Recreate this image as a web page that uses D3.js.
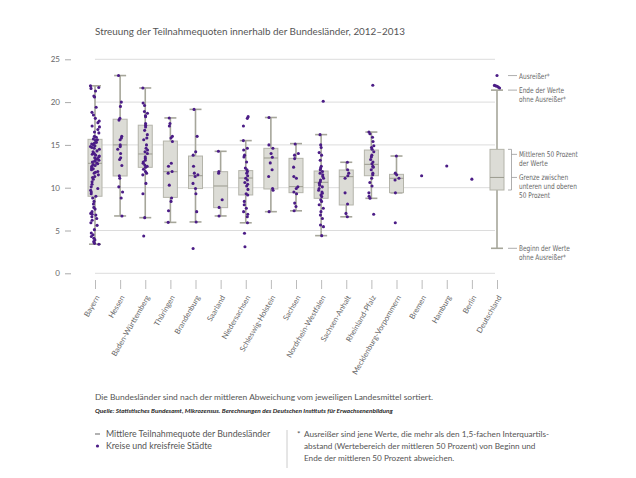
<!DOCTYPE html>
<html><head><meta charset="utf-8">
<script src="https://cdn.jsdelivr.net/npm/d3@7"></script>
<style>
body{margin:0;background:#fff;}
svg{display:block;font-family:Lato,"Open Sans",sans-serif;}
</style></head>
<body>
<svg id="c" width="636" height="478"></svg>
<script>
const categories = ["Bayern","Hessen","Baden-Württemberg","Thüringen","Brandenburg","Saarland","Niedersachsen","Schleswig-Holstein","Sachsen","Nordrhein-Westfalen","Sachsen-Anhalt","Rheinland-Pfalz","Mecklenburg-Vorpommern","Bremen","Hamburg","Berlin","Deutschland"];
const yTicks = [0,5,10,15,20,25];
// box statistics (null = no box)
const whiskerLow  = [3.4, 6.7, 6.5, 5.95, 6.0, 6.7, 5.9, 7.2, 7.3, 4.4, 6.6, 8.76, 9.4, null, null, null, 2.92];
const q1          = [9.0, 11.37, 12.38, 8.87, 9.9, 7.67, 9.15, 9.85, 9.42, 8.76, 7.98, 11.4, 9.42, null, null, null, 9.73];
const median      = [12.85, 15.0, 13.94, 11.87, 11.4, 10.2, 11.13, 13.47, 10.12, 10.63, 11.29, 12.73, 11.1, null, null, null, 11.2];
const q3          = [15.65, 18.0, 17.3, 15.45, 13.7, 11.87, 12.0, 14.6, 13.43, 11.95, 12.07, 14.4, 11.56, null, null, null, 14.48];
const whiskerHigh = [21.9, 23.1, 21.65, 18.15, 19.15, 14.25, 15.5, 18.2, 15.15, 16.2, 12.97, 16.5, 13.7, null, null, null, 21.4];
// Kreise und kreisfreie Städte (Teilnahmequoten)
const bayern = [21.9,21.7,21.6,21.3,20.7,20.6,19.4,18.8,18.5,18.1,17.8,17.6,17.2,17.1,16.8,16.5,16.4,16.0,15.9,15.7,15.6,15.5,15.3,15.2,15.1,15.0,14.9,14.8,14.7,14.6,14.5,14.3,14.2,14.0,13.9,13.8,13.7,13.6,13.5,13.4,13.3,13.2,13.1,13.0,12.9,12.8,12.7,12.6,12.5,12.3,12.2,12.1,11.9,11.8,11.7,11.5,11.3,11.2,11.0,10.7,10.4,10.1,9.9,9.7,9.5,9.3,9.0,8.8,8.4,8.1,7.7,7.5,7.2,7.0,6.9,6.8,6.6,6.4,6.2,5.9,5.6,5.1,4.7,4.5,4.3,4.1,3.9,3.7,3.5,3.4];
const hessen = [23.1,20.0,19.5,18.1,17.9,16.0,15.8,15.6,15.0,14.8,14.5,14.0,13.5,13.3,12.6,11.4,11.1,10.1,9.5,8.8,6.7];
const badenWuerttemberg = [21.65,19.9,19.6,18.9,18.7,18.4,18.3,17.5,17.3,17.1,16.7,16.2,15.8,15.6,15.0,14.6,14.4,14.2,14.0,13.6,13.4,13.2,13.0,12.85,12.65,12.5,12.4,12.15,11.9,11.7,11.5,10.5,9.3,6.5,4.36];
const thueringen = [18.15,17.5,17.2,16.0,15.8,15.4,12.85,12.5,11.9,11.7,10.3,8.8,8.4,7.3,5.95];
const brandenburg = [19.15,16.0,14.2,13.8,12.5,11.7,11.5,11.3,10.5,9.9,9.3,7.2,6.0,2.9];
const saarland = [14.25,11.9,11.7,8.6,7.7,6.7];
const niedersachsen = [18.3,18.1,17.2,15.5,14.6,14.4,13.8,13.6,13.0,12.3,12.1,11.9,11.7,11.4,11.1,10.9,10.6,10.4,10.2,9.8,9.3,9.15,8.4,8.0,7.6,7.2,6.9,6.6,5.9,4.67,3.1];
const schleswigHolstein = [18.2,15.0,14.6,14.0,13.55,12.9,12.1,11.3,9.9,9.7,7.2];
const sachsen = [15.1,14.0,13.8,13.4,12.4,11.3,11.1,10.1,9.9,9.5,9.3,8.2,7.8,7.3];
const nordrheinWestfalen = [20.1,16.2,15.0,14.7,14.1,13.8,13.2,12.5,12.3,12.1,11.9,11.7,11.5,11.3,11.1,10.9,10.7,10.5,10.3,10.1,9.9,9.7,9.5,9.35,9.15,8.96,8.6,8.4,8.0,7.6,7.2,6.8,6.4,5.65,5.45,4.4];
const sachsenAnhalt = [12.97,12.1,11.7,11.4,11.1,9.4,8.1,7.0,6.6];
const rheinlandPfalz = [21.96,16.5,16.3,15.9,15.4,14.9,14.7,14.5,14.2,13.8,13.6,13.3,13.0,12.8,12.5,12.4,12.1,11.7,11.5,11.1,10.6,10.2,9.4,9.0,8.76,6.9];
const mecklenburgVorpommern = [13.7,11.7,11.5,11.1,10.9,9.4,5.9];
const bremen = [11.4];
const hamburg = [12.53];
const berlin = [11.0];
const deutschlandAusreisser = [23.1,21.95,21.9,21.85,21.75,21.65];
const points = [bayern,hessen,badenWuerttemberg,thueringen,brandenburg,saarland,niedersachsen,schleswigHolstein,sachsen,nordrheinWestfalen,sachsenAnhalt,rheinlandPfalz,mecklenburgVorpommern,bremen,hamburg,berlin,deutschlandAusreisser];

const svg = d3.select("#c");
const purple = "#4b1c86";
const x = d3.scalePoint().domain(categories).range([95, 497]);
const y = d3.scaleLinear().domain([0,25]).range([273.3, 59.3]);

// title
svg.append("text").attr("x",95).attr("y",35).attr("font-size",9.9).attr("fill","#555")
  .text("Streuung der Teilnahmequoten innerhalb der Bundesländer, 2012–2013");

// gridlines
svg.append("g").selectAll("line").data(yTicks).join("line")
  .attr("x1",95).attr("x2",495).attr("y1",d=>y(d)).attr("y2",d=>y(d))
  .attr("stroke","#dcdcdc").attr("stroke-width",1);

// y axis
const ya = svg.append("g").attr("transform","translate(71,0)")
  .call(d3.axisLeft(y).tickValues(yTicks).tickSize(6).tickPadding(5));
ya.select(".domain").remove();
ya.selectAll("line").attr("stroke","#aaa");
ya.selectAll("text").attr("fill","#666").attr("font-size",8).attr("font-family","Lato,sans-serif");

// x axis
const xa = svg.append("g").attr("transform","translate(0,280)")
  .call(d3.axisBottom(x).tickSize(9));
xa.select(".domain").remove();
xa.selectAll("line").attr("stroke","#bbb");
xa.selectAll("text").attr("fill","#666").attr("font-size",7.6).attr("font-family","Lato,sans-serif")
  .attr("x",0).attr("y",0).attr("dy","0.35em").attr("text-anchor","end")
  .attr("transform","translate(2,16) rotate(-60)");

// boxes
const bw = 14;
const boxes = svg.append("g");
categories.forEach((c,i)=>{
  if (q1[i] === null) return;
  const cx = x(c);
  const g = boxes.append("g");
  g.append("line").attr("x1",cx).attr("x2",cx).attr("y1",y(whiskerLow[i])).attr("y2",y(whiskerHigh[i]))
    .attr("stroke","#a6a69a").attr("stroke-width",1.6);
  [whiskerLow[i], whiskerHigh[i]].forEach(v=>{
    g.append("line").attr("x1",cx-6).attr("x2",cx+6).attr("y1",y(v)).attr("y2",y(v))
      .attr("stroke","#a6a69a").attr("stroke-width",1.6);
  });
  g.append("rect").attr("x",cx-bw/2).attr("width",bw).attr("y",y(q3[i])).attr("height",y(q1[i])-y(q3[i]))
    .attr("fill","#dcdcd6").attr("stroke","#b4b4aa").attr("stroke-width",1);
  g.append("line").attr("x1",cx-bw/2).attr("x2",cx+bw/2).attr("y1",y(median[i])).attr("y2",y(median[i]))
    .attr("stroke","#9a9a8e").attr("stroke-width",1);
});

// dots (deterministic horizontal jitter)
function hash(a){ const s = Math.sin(a)*43758.5453; return s - Math.floor(s) - 0.5; }
const dots = svg.append("g");
categories.forEach((c,i)=>{
  const cx = x(c);
  const spread = i===0 ? 9 : (points[i].length>1 ? 5 : 0);
  points[i].forEach((v,j)=>{
    let dx = hash(j*12.9898 + i*78.233)*spread;
    if (c==="Deutschland") dx = j===0 ? 0 : (j-3)*1.3;
    dots.append("circle").attr("cx",cx+dx).attr("cy",y(v)).attr("r",1.55).attr("fill",purple);
  });
});

// annotations for Deutschland box
const ann = svg.append("g").attr("font-family","'Liberation Sans Narrow','DejaVu Sans Condensed',Lato,sans-serif").attr("font-size",7.8).attr("fill","#666");
const ax = 519;
function dash(x1,x2,yy){ ann.append("line").attr("x1",x1).attr("x2",x2).attr("y1",yy).attr("y2",yy).attr("stroke","#999").attr("stroke-width",0.8); }
function lines(arr,yy){ arr.forEach((t,k)=>ann.append("text").attr("transform",`translate(${ax},${yy+3+k*8.8}) scale(0.83,1)`).text(t)); }
const dIdx = categories.length-1;
dash(508,517,y(23.1)); lines(["Ausreißer*"], y(23.1));
dash(508,517,y(whiskerHigh[dIdx])); lines(["Ende der Werte","ohne Ausreißer*"], y(whiskerHigh[dIdx]));
const bx = 511.5;
ann.append("path").attr("d",`M508,${y(q3[dIdx])}H${bx}V${y(q1[dIdx])}H508`).attr("fill","none").attr("stroke","#999").attr("stroke-width",0.8);
dash(bx,517,y(q3[dIdx])+5); lines(["Mittleren 50 Prozent","der Werte"], y(q3[dIdx])+5);
dash(bx,517,y(median[dIdx])); lines(["Grenze zwischen","unteren und oberen","50 Prozent"], y(median[dIdx]));
dash(508,517,y(whiskerLow[dIdx])); lines(["Beginn der Werte","ohne Ausreißer*"], y(whiskerLow[dIdx]));

// notes
svg.append("text").attr("x",95).attr("y",400).attr("font-size",8.45).attr("fill","#555")
  .text("Die Bundesländer sind nach der mittleren Abweichung vom jeweiligen Landesmittel sortiert.");
svg.append("text").attr("x",95).attr("y",413).attr("font-size",6.45).attr("font-style","italic").attr("font-weight",700).attr("fill","#222")
  .text("Quelle: Statistisches Bundesamt, Mikrozensus. Berechnungen des Deutschen Instituts für Erwachsenenbildung");

// legend
svg.append("line").attr("x1",95).attr("x2",100).attr("y1",434).attr("y2",434).attr("stroke","#999").attr("stroke-width",1.5);
svg.append("text").attr("x",106).attr("y",437).attr("font-size",8.8).attr("fill","#555").text("Mittlere Teilnahmequote der Bundesländer");
svg.append("circle").attr("cx",97.5).attr("cy",446).attr("r",1.6).attr("fill",purple);
svg.append("text").attr("x",106).attr("y",449).attr("font-size",8.8).attr("fill","#555").text("Kreise und kreisfreie Städte");
svg.append("line").attr("x1",287).attr("x2",287).attr("y1",430).attr("y2",468).attr("stroke","#ccc");
svg.append("text").attr("x",297).attr("y",437).attr("font-size",8.2).attr("fill","#555").text("*");
["Ausreißer sind jene Werte, die mehr als den 1,5-fachen Interquartils-",
 "abstand (Wertebereich der mittleren 50 Prozent) von Beginn und",
 "Ende der mittleren 50 Prozent abweichen."].forEach((t,k)=>
  svg.append("text").attr("x",304).attr("y",437+k*12).attr("font-size",8.2).attr("fill","#555").text(t));
</script>
</body></html>
